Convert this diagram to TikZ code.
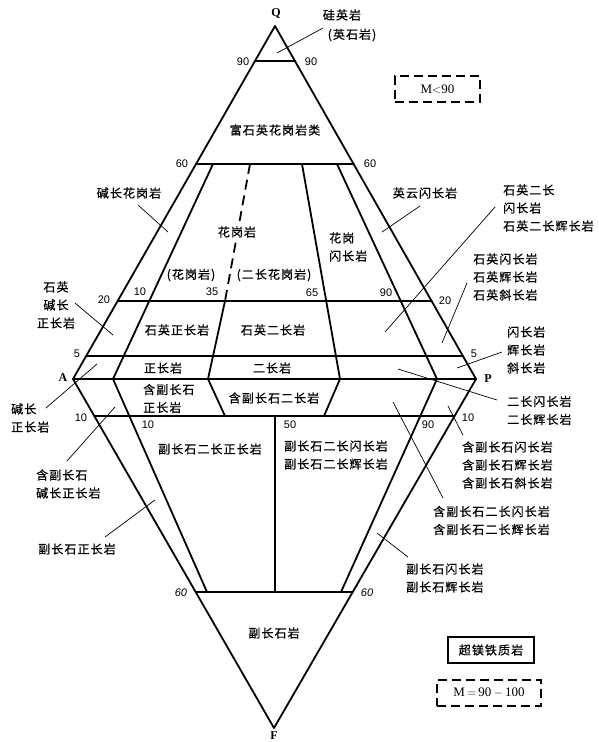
\documentclass[tikz,border=0pt]{standalone}
\usepackage{fontspec}
\setmainfont{Liberation Serif}
\newfontfamily\cjk{Noto Sans CJK SC}[LetterSpace=9,FakeBold=0.6]
\newfontfamily\numf{Liberation Sans}
\begin{document}
\begin{tikzpicture}[x=1pt,y=-1pt,
  edge/.style={line width=1.8pt, line cap=round, line join=round},
  lead/.style={line width=0.7pt},
  lab/.style={font=\cjk\fontsize{12}{18}\selectfont, inner sep=0pt, align=center},
  labl/.style={lab, anchor=west, align=left},
  num/.style={font=\numf\fontsize{11}{12}\selectfont, inner sep=0pt},
  vtx/.style={font=\fontsize{12}{14}\selectfont\bfseries, inner sep=0pt},
  dbox/.style={draw, line width=1.6pt, dash pattern=on 9pt off 5pt, inner sep=0pt, font=\fontsize{13}{14}\selectfont},
  sbox/.style={draw, line width=1.5pt, inner sep=0pt, font=\cjk\fontsize{12}{13}\selectfont}]
\useasboundingbox (0,0) rectangle (599,742);
% vertices
\coordinate (Q) at (275,26);
\coordinate (A) at (73,379);
\coordinate (P) at (476,379);
\coordinate (F) at (274,728);
% horizontal line ends
\coordinate (l90) at (255,61);   \coordinate (r90) at (295,61);
\coordinate (l60) at (196,164);  \coordinate (r60) at (353.6,164);
\coordinate (l20) at (117.6,301);\coordinate (r20) at (431.6,301);
\coordinate (l5) at (86.2,356);  \coordinate (r5) at (462.9,356);
\coordinate (l10) at (94.3,416); \coordinate (r10) at (454.6,416);
\coordinate (lF60) at (195.7,592);\coordinate (rF60) at (352.7,592);
% interior lines
\coordinate (a10t) at (213,164); \coordinate (a10m) at (113,379); \coordinate (a10b) at (207,592);
\coordinate (a35t) at (250,164); \coordinate (a35s) at (225,301); \coordinate (a35m) at (208,379); \coordinate (a35b) at (225,416);
\coordinate (a65t) at (302,164); \coordinate (a65m) at (340,379); \coordinate (a65b) at (324,416);
\coordinate (a90t) at (337,164); \coordinate (a90m) at (437,379); \coordinate (a90b) at (341,592);
\coordinate (a50t) at (275,416); \coordinate (a50b) at (275,592);

\draw[edge] (Q) -- (A) -- (F) -- (P) -- cycle;
\draw[edge] (A) -- (P);
\draw[edge] (l90) -- (r90);
\draw[edge] (l60) -- (r60);
\draw[edge] (l20) -- (r20);
\draw[edge] (l5) -- (r5);
\draw[edge] (l10) -- (r10);
\draw[edge] (lF60) -- (rF60);
\draw[edge] (a10t) -- (a10m) -- (a10b);
\draw[edge, line cap=butt, dash pattern=on 10pt off 6pt] (a35t) -- (a35s);
\draw[edge] (a35s) -- (a35m) -- (a35b);
\draw[edge] (a65t) -- (a65m) -- (a65b);
\draw[edge] (a90t) -- (a90m) -- (a90b);
\draw[edge] (a50t) -- (a50b);

% vertex labels
\node[vtx] (nQ) at (276,13) {Q};
\node[vtx] (nA) at (63,378) {A};
\node[vtx] (nP) at (488,379) {P};
\node[vtx] (nF) at (274,736) {F};

% numbers
\node[num] (n90l) at (243,62) {90};
\node[num] (n90r) at (311,62) {90};
\node[num] (n60l) at (182,164) {60};
\node[num] (n60r) at (370,164) {60};
\node[num] (n20l) at (104,300) {20};
\node[num] (n20r) at (445,301) {20};
\node[num] (n10a) at (140,292) {10};
\node[num] (n35) at (212,292) {35};
\node[num] (n65) at (312,293) {65};
\node[num] (n90a) at (386,293) {90};
\node[num] (n5l) at (77,354) {5};
\node[num] (n5r) at (474,354) {5};
\node[num] (n10l) at (81,418) {10};
\node[num] (n10b) at (148,425) {10};
\node[num] (n50) at (290,425) {50};
\node[num] (n90b) at (428,425) {90};
\node[num] (n10r) at (468,418) {10};
\node[num, font=\numf\itshape\fontsize{11}{12}\selectfont] (n60bl) at (181,593) {60};
\node[num, font=\numf\itshape\fontsize{11}{12}\selectfont] (n60br) at (367,593) {60};

% field labels
\node[lab] (qz) at (342,15) {硅英岩};
\node[lab] (qz2) at (352,35) {(英石岩)};
\coordinate (qzA) at (323,28); \coordinate (qzB) at (277,53);
\draw[lead] (qzA) -- (qzB);

\node[dbox, minimum width=85pt, minimum height=26pt] (mlt) at (437.5,89) {M$<$90};

\node[lab] (rich) at (275,130) {富石英花岗岩类};
\node[lab] (akg) at (129,193) {碱长花岗岩};
\coordinate (akgA) at (138,205); \coordinate (akgB) at (168,232);
\draw[lead] (akgA) -- (akgB);
\node[lab, fill=white, inner sep=2pt] (gr) at (237,232) {花岗岩};
\node[lab] (gr1) at (191,275) {(花岗岩)};
\node[lab] (gr2) at (274,275) {(二长花岗岩)};
\node[labl] (grd) at (329,247) {花岗\\闪长岩};
\node[lab] (ton) at (425,193) {英云闪长岩};
\coordinate (tonA) at (420,206); \coordinate (tonB) at (382,232);
\draw[lead] (tonA) -- (tonB);
\node[labl] (qmd) at (503,208) {石英二长\\闪长岩\\石英二长辉长岩};
\coordinate (qmdA) at (495,207); \coordinate (qmdB) at (385,332);
\draw[lead] (qmdA) -- (qmdB);
\node[labl] (qd) at (473,277) {石英闪长岩\\石英辉长岩\\石英斜长岩};
\coordinate (qdA) at (467,283); \coordinate (qdB) at (442,343);
\draw[lead] (qdA) -- (qdB);
\node[lab] (qas) at (56,305) {石英\\碱长\\正长岩};
\coordinate (qasA) at (75,303); \coordinate (qasB) at (113,335);
\draw[lead] (qasA) -- (qasB);
\node[lab] (qs) at (177,330) {石英正长岩};
\node[lab] (qm) at (273,330) {石英二长岩};
\node[lab] (sy) at (163,368) {正长岩};
\node[lab] (mz) at (272,368) {二长岩};
\node[labl] (dio) at (507,350) {闪长岩\\辉长岩\\斜长岩};
\coordinate (dioA) at (502,352); \coordinate (dioB) at (457,368);
\draw[lead] (dioA) -- (dioB);
\node[labl] (as) at (11,418) {碱长\\正长岩};
\coordinate (asA) at (46,408); \coordinate (asB) at (97,364);
\draw[lead] (asA) -- (asB);
\node[labl] (fsy) at (143,398.5) {含副长石\\正长岩};
\node[lab] (fmz) at (274,398) {含副长石二长岩};
\node[labl] (md) at (507,410.5) {二长闪长岩\\二长辉长岩};
\coordinate (mdA) at (497,400); \coordinate (mdB) at (398,369);
\draw[lead] (mdA) -- (mdB);
\node[labl] (fd) at (462,465) {含副长石闪长岩\\含副长石辉长岩\\含副长石斜长岩};
\coordinate (fdA) at (463,435); \coordinate (fdB) at (448,406);
\draw[lead] (fdA) -- (fdB);
\node[labl] (fmd) at (433,520.5) {含副长石二长闪长岩\\含副长石二长辉长岩};
\coordinate (fmdA) at (443,498); \coordinate (fmdB) at (393,402);
\draw[lead] (fmdA) -- (fmdB);
\node[lab] (fms) at (210,449) {副长石二长正长岩};
\node[labl] (fmdd) at (284,455) {副长石二长闪长岩\\副长石二长辉长岩};
\node[labl] (fas) at (36,484) {含副长石\\碱长正长岩};
\coordinate (fasA) at (67,461); \coordinate (fasB) at (115,407);
\draw[lead] (fasA) -- (fasB);
\node[lab] (fs) at (77,549) {副长石正长岩};
\coordinate (fsA) at (105,537); \coordinate (fsB) at (155,500);
\draw[lead] (fsA) -- (fsB);
\node[labl] (fdd) at (406,578) {副长石闪长岩\\副长石辉长岩};
\coordinate (fddA) at (408,557); \coordinate (fddB) at (377,533);
\draw[lead] (fddA) -- (fddB);
\node[lab] (foid) at (274,633) {副长石岩};

\node[sbox, minimum width=86pt, minimum height=26pt] (um) at (491,650) {超镁铁质岩};
\node[dbox, minimum width=104pt, minimum height=26pt] (m90) at (489,693) {M\,$=$\,90\,$-$\,100};
\end{tikzpicture}
\end{document}
